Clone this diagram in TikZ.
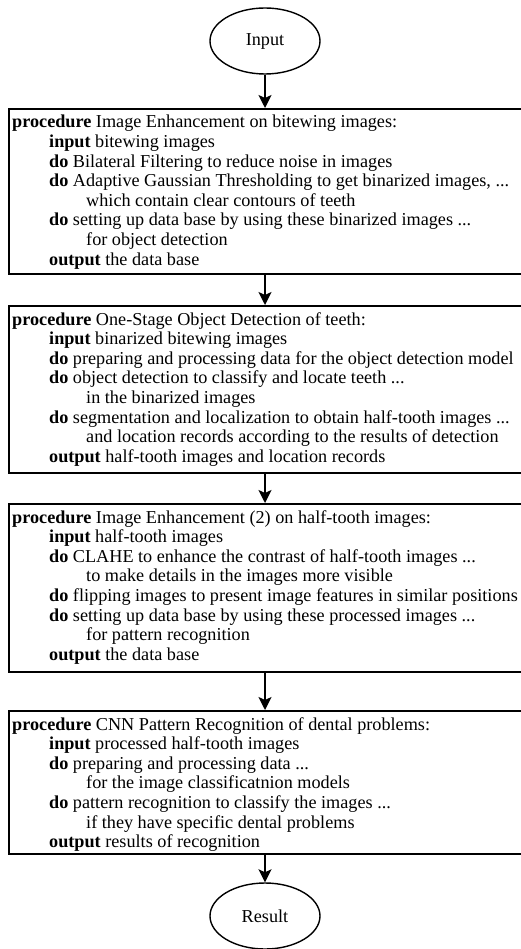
\documentclass[tikz,border=0pt]{standalone}
\usepackage{fontspec}
\setmainfont{Liberation Serif}
\usetikzlibrary{arrows.meta,shapes.geometric}
\newcommand\LA[1]{\hbox{#1}}
\newcommand\LB[1]{\hbox{\kern37pt #1}}
\newcommand\LC[1]{\hbox{\kern74pt #1}}
\newcommand\procstack[1]{\vtop{\baselineskip=19.6pt\lineskiplimit=-100pt #1}}
\begin{document}
\begin{tikzpicture}[x=1pt,y=-1pt,
  every node/.style={font=\fontsize{18.2pt}{19.6pt}\selectfont},
  term/.style={draw,line width=1.4pt,ellipse,minimum width=110pt,minimum height=66pt,inner sep=0pt},
  procframe/.style={draw,line width=1.6pt,rectangle,anchor=north west,minimum width=522pt,inner sep=0pt},
  proctext/.style={anchor=base west,inner sep=0pt},
  arr/.style={line width=1.6pt,-{Stealth[length=13pt,width=13pt,inset=3pt]}}]
\useasboundingbox (0,0) rectangle (520,949);
\fill[white] (0,0) rectangle (520,949);
\node[term] (in) at (265,41) {Input};
\node[procframe,minimum height=165pt] (b1) at (8,108) {};
\node[proctext] (t1) at (12,128) {\procstack{%
\LA{\textbf{procedure} Image Enhancement on bitewing images:}
\LB{\textbf{input} bitewing images}
\LB{\textbf{do} Bilateral Filtering to reduce noise in images}
\LB{\textbf{do} Adaptive Gaussian Thresholding to get binarized images, ...}
\LC{which contain clear contours of teeth}
\LB{\textbf{do} setting up data base by using these binarized images ...}
\LC{for object detection}
\LB{\textbf{output} the data base}}};
\node[procframe,minimum height=167pt] (b2) at (8,305) {};
\node[proctext] (t2) at (12,325) {\procstack{%
\LA{\textbf{procedure} One-Stage Object Detection of teeth:}
\LB{\textbf{input} binarized bitewing images}
\LB{\textbf{do} preparing and processing data for the object detection model}
\LB{\textbf{do} object detection to classify and locate teeth ...}
\LC{in the binarized images}
\LB{\textbf{do} segmentation and localization to obtain half-tooth images ...}
\LC{and location records according to the results of detection}
\LB{\textbf{output} half-tooth images and location records}}};
\node[procframe,minimum height=168pt] (b3) at (8,503) {};
\node[proctext] (t3) at (12,523) {\procstack{%
\LA{\textbf{procedure} Image Enhancement (2) on half-tooth images:}
\LB{\textbf{input} half-tooth images}
\LB{\textbf{do} CLAHE to enhance the contrast of half-tooth images ...}
\LC{to make details in the images more visible}
\LB{\textbf{do} flipping images to present image features in similar positions}
\LB{\textbf{do} setting up data base by using these processed images ...}
\LC{for pattern recognition}
\LB{\textbf{output} the data base}}};
\node[procframe,minimum height=143pt] (b4) at (8,710) {};
\node[proctext] (t4) at (12,730) {\procstack{%
\LA{\textbf{procedure} CNN Pattern Recognition of dental problems:}
\LB{\textbf{input} processed half-tooth images}
\LB{\textbf{do} preparing and processing data ...}
\LC{for the image classificatnion models}
\LB{\textbf{do} pattern recognition to classify the images ...}
\LC{if they have specific dental problems}
\LB{\textbf{output} results of recognition}}};
\node[term] (out) at (265,916) {Result};
\draw[arr] (in.south) -- (in.south |- b1.north);
\draw[arr] (b1.south -| in.south) -- (b2.north -| in.south);
\draw[arr] (b2.south -| in.south) -- (b3.north -| in.south);
\draw[arr] (b3.south -| in.south) -- (b4.north -| in.south);
\draw[arr] (b4.south -| out.north) -- (out.north);
\end{tikzpicture}
\end{document}
